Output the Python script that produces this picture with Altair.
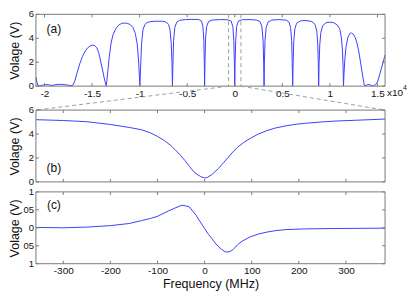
import altair as alt
import pandas as pd

FONT = "Liberation Sans"
BLUE = "#3f3fff"
FRAME = "#7a7a7a"
DASH = "#8da6a6"
TXT = "#111111"

# ---------------- data ----------------
# panel (a): frequency in units of 1e4 MHz, voltage in V
a_points = [
    (-2.09, 0.75), (-2.08, 0.35), (-2.07, 0.06), (-2.05, 0.03), (-2.02, 0.08),
    (-1.99, 0.14), (-1.96, 0.12), (-1.93, 0.06), (-1.90, 0.10), (-1.86, 0.14),
    (-1.82, 0.15), (-1.78, 0.12), (-1.75, 0.08), (-1.72, 0.03), (-1.70, 0.10),
    (-1.68, 0.45), (-1.66, 1.05), (-1.63, 1.85), (-1.60, 2.5), (-1.57, 2.95),
    (-1.54, 3.25), (-1.51, 3.40), (-1.49, 3.43), (-1.47, 3.38), (-1.45, 3.2),
    (-1.43, 2.8), (-1.41, 2.1), (-1.39, 1.35), (-1.37, 0.6), (-1.352, 0.03),
    (-1.345, 0.4), (-1.335, 1.2), (-1.32, 2.4), (-1.30, 3.6), (-1.28, 4.3),
    (-1.25, 4.8), (-1.22, 5.1), (-1.19, 5.24), (-1.16, 5.27), (-1.13, 5.25),
    (-1.10, 5.15), (-1.07, 4.9), (-1.045, 4.4), (-1.025, 3.5), (-1.01, 2.0),
    (-1.0, 0.4), (-0.997, 0.02), (-0.99, 1.5), (-0.98, 3.5), (-0.965, 4.7),
    (-0.945, 5.15), (-0.92, 5.32), (-0.88, 5.4), (-0.82, 5.43), (-0.76, 5.42),
    (-0.72, 5.35), (-0.695, 5.15), (-0.68, 4.7), (-0.668, 3.6), (-0.66, 2.0),
    (-0.655, 0.02), (-0.65, 1.8), (-0.643, 3.8), (-0.63, 4.9), (-0.61, 5.35),
    (-0.58, 5.5), (-0.52, 5.56), (-0.45, 5.58), (-0.38, 5.57), (-0.35, 5.45),
    (-0.335, 5.0), (-0.325, 3.8), (-0.32, 2.0), (-0.317, 0.02), (-0.313, 2.0),
    (-0.307, 4.0), (-0.295, 5.0), (-0.275, 5.4), (-0.24, 5.52), (-0.16, 5.56),
    (-0.08, 5.55), (-0.04, 5.45), (-0.02, 5.0), (-0.01, 3.8), (-0.004, 2.0),
    (0.0, 0.02), (0.004, 2.0), (0.01, 3.8), (0.02, 5.0), (0.04, 5.45),
    (0.08, 5.55), (0.16, 5.56), (0.23, 5.52), (0.265, 5.4), (0.285, 5.0),
    (0.298, 3.8), (0.304, 2.0), (0.308, 0.02), (0.312, 2.0), (0.318, 3.8),
    (0.33, 4.9), (0.35, 5.35), (0.39, 5.52), (0.46, 5.56), (0.54, 5.52),
    (0.57, 5.35), (0.587, 4.9), (0.598, 3.8), (0.604, 2.0), (0.609, 0.02),
    (0.614, 2.0), (0.62, 3.7), (0.632, 4.8), (0.65, 5.25), (0.69, 5.45),
    (0.75, 5.48), (0.81, 5.4), (0.845, 5.15), (0.862, 4.6), (0.872, 3.6),
    (0.878, 2.0), (0.882, 0.02), (0.887, 2.0), (0.894, 3.5), (0.905, 4.5),
    (0.925, 5.05), (0.96, 5.3), (1.0, 5.35), (1.04, 5.3), (1.08, 5.1),
    (1.105, 4.75), (1.12, 4.1), (1.132, 3.0), (1.139, 1.6), (1.143, 0.02),
    (1.148, 1.0), (1.157, 2.2), (1.17, 3.3), (1.19, 4.1), (1.21, 4.4),
    (1.227, 4.45), (1.245, 4.35), (1.265, 4.1), (1.285, 3.6), (1.305, 2.85),
    (1.32, 2.1), (1.335, 1.35), (1.35, 0.6), (1.363, 0.05), (1.38, 0.06),
    (1.40, 0.14), (1.42, 0.12), (1.44, 0.03), (1.46, 0.05), (1.48, 0.12),
    (1.50, 0.35), (1.52, 0.85), (1.54, 1.45), (1.56, 2.0), (1.58, 2.6),
]

# panel (b): frequency (MHz), voltage (V)
b_freq = [-358, -300, -250, -200, -160, -134, -115, -100, -85, -73, -63, -53, -42,
          -32, -24, -18, -8, 0, 6, 15, 22, 29, 40, 50, 60, 70, 83, 97, 115, 132,
          150, 173, 195, 214, 245, 275, 320, 383]
b_volt = [5.2, 5.13, 5.03, 4.8, 4.55, 4.36, 4.1, 3.8, 3.45, 3.08, 2.7, 2.3, 1.8,
          1.28, 0.9, 0.69, 0.44, 0.33, 0.38, 0.6, 0.85, 1.1, 1.6, 2.05, 2.5, 2.9,
          3.3, 3.64, 4.02, 4.28, 4.5, 4.69, 4.82, 4.9, 5.0, 5.08, 5.15, 5.25]

# panel (c): frequency (MHz), voltage (V)
c_freq = [-358, -300, -250, -200, -160, -134, -115, -100, -80, -63, -48, -40, -32,
          -25, -18, -12, -5, 0, 8, 15, 22, 29, 36, 44, 52, 58, 64, 70, 80, 97,
          115, 132, 150, 173, 214, 275, 383]
c_volt = [0.01, 0.0, 0.02, 0.06, 0.12, 0.2, 0.26, 0.32, 0.45, 0.55, 0.63, 0.61,
          0.58, 0.46, 0.35, 0.22, 0.08, -0.02, -0.18, -0.29, -0.42, -0.52, -0.6,
          -0.67, -0.67, -0.63, -0.56, -0.47, -0.37, -0.25, -0.17, -0.12, -0.08,
          -0.05, -0.03, -0.02, -0.01]

a_xticks = [-2, -1.5, -1, -0.5, 0, 0.5, 1, 1.5]
v_ticks = [0, 2, 4, 6]
v_labels = ["0", "2", "4", "6"]
f_ticks = [-300, -200, -100, 0, 100, 200, 300]
c_ticks = [-1, -0.5, 0, 0.5, 1]
c_labels = ["1", "05", "0", "05", "1"]
zoom_marks = [-0.065, 0.065]

A_DOM = [-2.09, 1.58]
F_DOM = [-358, 383]
V_DOM = [0, 6]
C_DOM = [-1, 1]

# ---------------- layout ----------------
W = 350
H = 72
GAP_AB = 24
GAP_BC = 10
HA = H + GAP_AB - GAP_BC
TICK = 3

df_a = pd.DataFrame(a_points, columns=["x", "v"])
df_b = pd.DataFrame({"f": b_freq, "v": b_volt})
df_c = pd.DataFrame({"f": c_freq, "v": c_volt})
one = pd.DataFrame({"k": [0]})


def decorations(xs, ys, xdom, ydom, xticks, yticks, ylabels):
    box = pd.DataFrame({"x0": [xdom[0]], "x1": [xdom[1]], "y0": [ydom[0]], "y1": [ydom[1]]})
    frame = alt.Chart(box).mark_rect(fillOpacity=0, stroke=FRAME, strokeWidth=1).encode(
        x=alt.X("x0:Q", scale=xs), x2="x1:Q",
        y=alt.Y("y0:Q", scale=ys), y2="y1:Q")
    xt = pd.DataFrame({"t": xticks})
    yt = pd.DataFrame({"t": yticks, "lab": ylabels})
    bot = alt.Chart(xt).mark_rule(color=FRAME).encode(
        x=alt.X("t:Q", scale=xs), y=alt.value(H), y2=alt.value(H - TICK))
    top = alt.Chart(xt).mark_rule(color=FRAME).encode(
        x=alt.X("t:Q", scale=xs), y=alt.value(0), y2=alt.value(TICK))
    left = alt.Chart(yt).mark_rule(color=FRAME).encode(
        y=alt.Y("t:Q", scale=ys), x=alt.value(0), x2=alt.value(TICK))
    right = alt.Chart(yt).mark_rule(color=FRAME).encode(
        y=alt.Y("t:Q", scale=ys), x=alt.value(W), x2=alt.value(W - TICK))
    labs = alt.Chart(yt).mark_text(align="right", baseline="middle", fontSize=9.5,
                                   font=FONT, color=TXT).encode(
        x=alt.value(-2), y=alt.Y("t:Q", scale=ys), text="lab:N")
    return [frame, bot, top, left, right, labs]


def letter(txt, y):
    return alt.Chart(one).mark_text(text=txt, fontSize=12, font=FONT, color=TXT).encode(
        x=alt.value(18), y=alt.value(y))


def yaxis():
    return alt.Axis(labels=False, ticks=False, domain=False, grid=False,
                    title="Volage (V)", titleX=-14)


# ---------------- panel (a) ----------------
xs_a = alt.Scale(domain=A_DOM, nice=False, zero=False)
ys_a = alt.Scale(domain=V_DOM, nice=False, zero=False, range=[H, 0])

line_a = alt.Chart(df_a).mark_line(color=BLUE, strokeWidth=1).encode(
    x=alt.X("x:Q", scale=xs_a,
            axis=alt.Axis(values=a_xticks, labelExpr="'' + datum.value", ticks=False,
                          domain=False, grid=False, title=None, offset=-(HA - H),
                          labelPadding=2, labelOverlap=False, labelFlush=False)),
    y=alt.Y("v:Q", scale=ys_a, axis=yaxis()))

zm = pd.DataFrame({"z": zoom_marks, "edge": [A_DOM[0], A_DOM[1]]})
vert = alt.Chart(zm).mark_rule(color=DASH, strokeDash=[4, 3], strokeWidth=1).encode(
    x=alt.X("z:Q", scale=xs_a), y=alt.value(0), y2=alt.value(H))
diag = alt.Chart(zm).mark_rule(color=DASH, strokeDash=[4, 3], strokeWidth=1).encode(
    x=alt.X("z:Q", scale=xs_a), x2="edge:Q",
    y=alt.value(H), y2=alt.value(H + GAP_AB))
exp_txt = alt.Chart(one).mark_text(text="x10", align="left", baseline="middle",
                                   fontSize=10, font=FONT, color=TXT).encode(
    x=alt.value(W + 2), y=alt.value(H + 7))
exp_pow = alt.Chart(one).mark_text(text="4", align="left", baseline="middle",
                                   fontSize=7, font=FONT, color=TXT).encode(
    x=alt.value(W + 18), y=alt.value(H + 2))

panel_a = alt.layer(
    line_a, *decorations(xs_a, ys_a, A_DOM, V_DOM, a_xticks, v_ticks, v_labels),
    vert, diag, exp_txt, exp_pow, letter("(a)", 15)
).properties(width=W, height=HA)

# ---------------- panel (b) ----------------
xs_b = alt.Scale(domain=F_DOM, nice=False, zero=False)
ys_b = alt.Scale(domain=V_DOM, nice=False, zero=False, range=[H, 0])
line_b = alt.Chart(df_b).mark_line(color=BLUE, strokeWidth=1).encode(
    x=alt.X("f:Q", scale=xs_b, axis=None),
    y=alt.Y("v:Q", scale=ys_b, axis=yaxis()))
panel_b = alt.layer(
    line_b, *decorations(xs_b, ys_b, F_DOM, V_DOM, f_ticks, v_ticks, v_labels),
    letter("(b)", 58)
).properties(width=W, height=H)

# ---------------- panel (c) ----------------
xs_c = alt.Scale(domain=F_DOM, nice=False, zero=False)
ys_c = alt.Scale(domain=C_DOM, nice=False, zero=False, range=[H, 0])
line_c = alt.Chart(df_c).mark_line(color=BLUE, strokeWidth=1).encode(
    x=alt.X("f:Q", scale=xs_c,
            axis=alt.Axis(values=f_ticks, labelExpr="'' + datum.value", ticks=False,
                          domain=False, grid=False, title="Frequency (MHz)",
                          labelPadding=2, titlePadding=2, labelOverlap=False,
                          labelFlush=False)),
    y=alt.Y("v:Q", scale=ys_c, axis=yaxis()))
panel_c = alt.layer(
    line_c, *decorations(xs_c, ys_c, F_DOM, C_DOM, f_ticks, c_ticks, c_labels),
    letter("(c)", 13)
).properties(width=W, height=H)

chart = alt.vconcat(panel_a, panel_b, panel_c, spacing=GAP_BC, bounds="flush").properties(
    padding=0
).configure(font=FONT).configure_view(stroke="transparent").configure_axis(
    labelFont=FONT, labelFontSize=10, labelColor=TXT,
    titleFont=FONT, titleFontSize=12.5, titleFontWeight="normal", titleColor=TXT)

chart.save("out.html", embed_options={"renderer": "svg", "actions": False})
